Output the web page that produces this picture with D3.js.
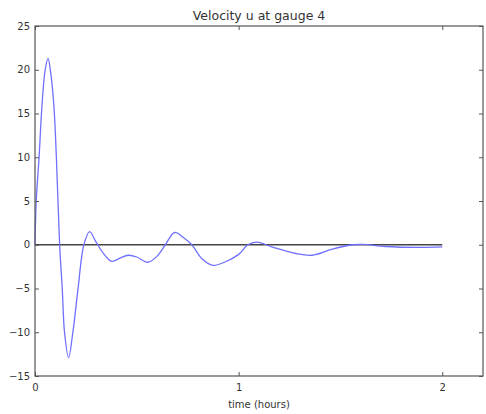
<!DOCTYPE html>
<html>
<head>
<meta charset="utf-8">
<script src="https://cdn.jsdelivr.net/npm/d3@7"></script>
<style>
  body { margin: 0; background: #fff; }
  text { font-family: "DejaVu Sans", sans-serif; fill: #333; }
</style>
</head>
<body>
<div id="chart"></div>
<script>
(function () {
    var width = 486,
        height = 414;

    // time in hours, velocity u
    var timeHours = [0, 0.006, 0.02, 0.034, 0.05, 0.064, 0.078, 0.093, 0.105, 0.121, 0.134, 0.145, 0.165,
        0.186, 0.211, 0.24, 0.268, 0.3, 0.34, 0.377, 0.42, 0.457, 0.5, 0.554, 0.6, 0.64, 0.686, 0.73, 0.77,
        0.82, 0.873, 0.93, 1.0, 1.045, 1.09, 1.17, 1.28, 1.36, 1.46, 1.56, 1.61, 1.72, 1.89, 2.0];
    var velocityU = [0, 5, 10, 15.8, 20, 21.3, 19.5, 15.8, 10, 0, -5.1, -10, -12.9,
        -10, -5.1, 0, 1.5, 0.3, -1.1, -1.9, -1.5, -1.2, -1.4, -2.0, -1.3, 0, 1.4, 0.8, 0,
        -1.6, -2.35, -2.0, -1.1, 0, 0.3, -0.3, -1.0, -1.2, -0.5, 0, 0.05, -0.2, -0.3, -0.25];

    var xTicks = [0, 1, 2];
    var yTicks = [-15, -10, -5, 0, 5, 10, 15, 20, 25];
    var zeroLine = [[0, 0], [2, 0]];

    var margin = {left: 35, right: 3, top: 26, bottom: 38};

    var data = timeHours.map(function (t, i) { return [t, velocityU[i]]; });

    var x = d3.scaleLinear().domain([0, 2.2]).range([margin.left, width - margin.right]);
    var y = d3.scaleLinear().domain([-15, 25]).range([height - margin.bottom, margin.top]);

    var svg = d3.select("#chart")
        .append("svg")
        .attr("width", width)
        .attr("height", height);

    var line = d3.line()
        .x(function (d) { return x(d[0]); })
        .y(function (d) { return y(d[1]); })
        .curve(d3.curveCatmullRom.alpha(0.5));

    // black zero line
    svg.append("path")
        .datum(zeroLine)
        .attr("d", d3.line().x(function (d) { return x(d[0]); }).y(function (d) { return y(d[1]); }))
        .attr("stroke", "#444")
        .attr("stroke-width", 1.5)
        .attr("fill", "none");

    svg.append("path")
        .datum(data)
        .attr("d", line)
        .attr("stroke", "#7070ff")
        .attr("stroke-width", 1.3)
        .attr("fill", "none");

    // inward ticks on all four sides
    var tl = 4;
    svg.append("g")
        .attr("transform", "translate(0," + y(-15) + ")")
        .call(d3.axisBottom(x).tickValues(xTicks).tickSizeInner(-tl).tickSizeOuter(0).tickPadding(8).tickFormat(d3.format("d")));
    svg.append("g")
        .attr("transform", "translate(0," + y(25) + ")")
        .call(d3.axisTop(x).tickValues(xTicks).tickSizeInner(-tl).tickSizeOuter(0).tickFormat(""));
    svg.append("g")
        .attr("transform", "translate(" + x(0) + ",0)")
        .call(d3.axisLeft(y).tickValues(yTicks).tickSizeInner(-tl).tickSizeOuter(0).tickPadding(5).tickFormat(function (d) { return d < 0 ? "\u2212" + (-d) : d; }));
    svg.append("g")
        .attr("transform", "translate(" + x(2.2) + ",0)")
        .call(d3.axisRight(y).tickValues(yTicks).tickSizeInner(-tl).tickSizeOuter(0).tickFormat(""));

    svg.selectAll(".domain").remove();
    svg.selectAll(".tick line").attr("stroke", "#555");
    svg.selectAll(".tick text").attr("font-size", "10px").attr("fill", "#333");

    // frame
    svg.append("rect")
        .attr("x", x(0))
        .attr("y", y(25))
        .attr("width", x(2.2) - x(0))
        .attr("height", y(-15) - y(25))
        .attr("fill", "none")
        .attr("stroke", "#555")
        .attr("stroke-width", 1.2);

    svg.append("text")
        .attr("x", (x(0) + x(2.2)) / 2)
        .attr("y", 20)
        .attr("text-anchor", "middle")
        .attr("font-size", "12.5px")
        .text("Velocity u at gauge 4");

    svg.append("text")
        .attr("x", (x(0) + x(2.2)) / 2)
        .attr("y", 408)
        .attr("text-anchor", "middle")
        .attr("font-size", "10px")
        .text("time (hours)");
})();
</script>
</body>
</html>
